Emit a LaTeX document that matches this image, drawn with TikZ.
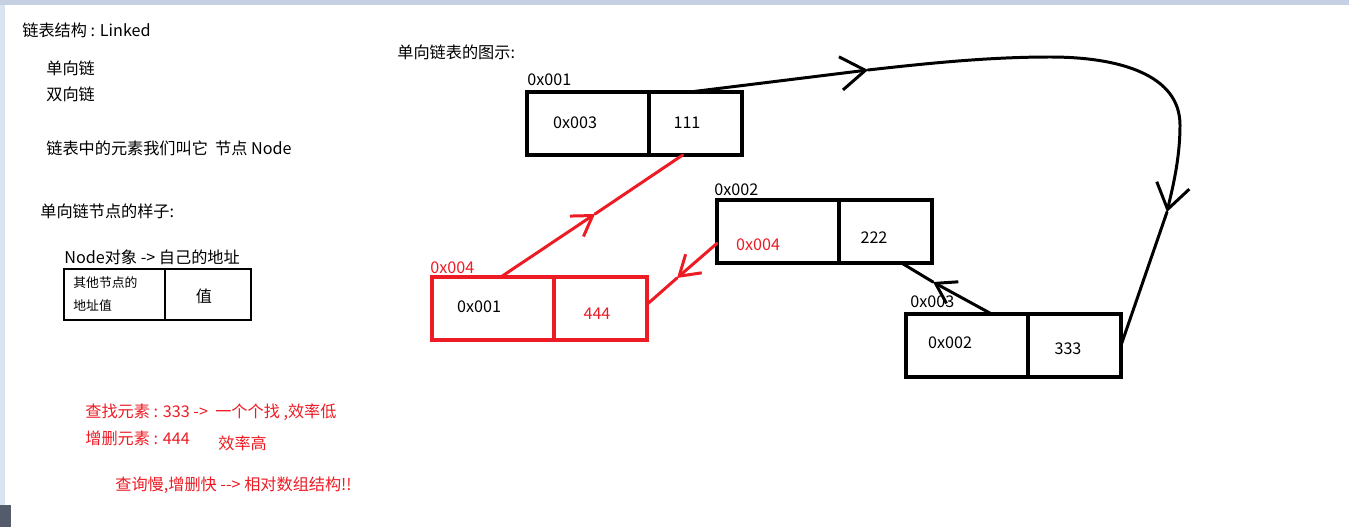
\documentclass[tikz,border=0pt]{standalone}
\usepackage{fontspec}
\newfontfamily\cjkfont{Noto Sans CJK SC}
\usepackage{tikz}
\usetikzlibrary{arrows.meta}
\definecolor{rot}{RGB}{237,28,36}
\definecolor{rahmen}{RGB}{197,208,226}
\definecolor{rand}{RGB}{217,227,241}
\definecolor{leiste}{RGB}{84,92,108}

\begin{document}
\begin{tikzpicture}[x=0.02cm,y=-0.02cm,
		font=\cjkfont\fontsize{9.2}{11}\selectfont,
		txt/.style={anchor=west,inner sep=0pt},
		klein/.style={txt,font=\cjkfont\fontsize{7.3}{9}\selectfont},
		feld/.style={draw,line width=1.8pt,outer sep=0pt,inner sep=0pt,minimum height=1.26cm},
		links/.style={feld,minimum width=2.44cm},
		rechts/.style={feld,minimum width=1.86cm},
		linie/.style={line width=1.7pt,line cap=round,line join=round},
		pfeil/.style={linie,-{Straight Barb[length=14pt,width=19pt]}},
		kpfeil/.style={linie,-{Straight Barb[length=11pt,width=14pt]}}]
		\useasboundingbox (0,0) rectangle (1349,527);
		\fill[white] (0,0) rectangle (1349,527);
		\fill[rahmen] (0,0) rectangle (1349,5);
		\fill[rand] (0,5) rectangle (5,505);
		\fill[leiste] (0,505) rectangle (11,527);
		
		% Texte links
		\node[txt] (titel) at (22,30) {链表结构 : Linked};
		\node[txt] (einfach) at (46,68) {单向链};
		\node[txt] (doppelt) at (46,94) {双向链};
		\node[txt] (element) at (46,148) {链表中的元素我们叫它\ \ 节点 Node};
		\node[txt] (muster) at (40,211) {单向链节点的样子:};
		\node[txt] (objekt) at (64,257) {Node对象 -> 自己的地址};
		
		% Musterknoten
		\node[feld,line width=1.5pt,minimum width=2.02cm,minimum height=1.02cm,anchor=north west] (ma) at (64,269) {};
		\node[feld,line width=1.5pt,minimum width=1.72cm,minimum height=1.02cm,anchor=west] (mb) at (ma.east) {};
		\node[klein] (mt1) at (73,283) {其他节点的};
		\node[klein] (mt2) at (73,306) {地址值};
		\node[inner sep=0pt] (mt3) at (204,296) {值};
		
		% Bemerkungen
		\node[txt,text=rot] (suche) at (85,412) {查找元素 : 333 ->\ \ 一个个找 ,效率低};
		\node[txt,text=rot] (aendern) at (85,438) {增删元素 : 444};
		\node[txt,text=rot] (hoch) at (218,443) {效率高};
		\node[txt,text=rot] (fazit) at (115,485) {查询慢,增删快 -{}-> 相对数组结构!!};
		
		% Knoten
		\node[txt] (bild) at (397,52) {单向链表的图示:};
		\node[links,anchor=north west] (n1a) at (527,92) {};
		\node[rechts,anchor=west] (n1b) at (n1a.east) {};
		\node[txt] (l1) at (527,80) {0x001};
		\node[inner sep=0pt] (t1a) at (575,123) {0x003};
		\node[inner sep=0pt] (t1b) at (687,123) {111};
		
		\node[links,anchor=north west] (n2a) at (717,200) {};
		\node[rechts,anchor=west] (n2b) at (n2a.east) {};
		\node[txt] (l2) at (714,190) {0x002};
		\node[inner sep=0pt,text=rot] (t2a) at (758,245) {0x004};
		\node[inner sep=0pt] (t2b) at (874,238) {222};
		
		\node[links,anchor=north west] (n3a) at (906,314) {};
		\node[rechts,anchor=west] (n3b) at (n3a.east) {};
		\node[txt] (l3) at (910,302) {0x003};
		\node[inner sep=0pt] (t3a) at (950,343) {0x002};
		\node[inner sep=0pt] (t3b) at (1068,349) {333};
		
		\node[links,draw=rot,anchor=north west] (n4a) at (432,277) {};
		\node[rechts,draw=rot,anchor=west] (n4b) at (n4a.east) {};
		\node[txt,text=rot] (l4) at (430,268) {0x004};
		\node[inner sep=0pt] (t4a) at (479,307) {0x001};
		\node[inner sep=0pt,text=rot] (t4b) at (597,314) {444};
		
		% Pfeile
		\coordinate (p1) at (868,70);
		\coordinate (p2) at (1167,212);
		\coordinate (p3) at (933,282);
		\coordinate (p4) at (595,214);
		\coordinate (p5) at (677,278);
		\draw[pfeil] (n1b.100) -- (p1);
		\draw[pfeil] (p1) .. controls (930,63) and (990,57) .. (1050,57)
			.. controls (1120,57) and (1180,75) .. (1180,125)
			.. controls (1180,160) and (1172,190) .. (p2);
		\draw[linie] (p2) -- (n3b.east);
		\draw[kpfeil] (n3a.52) -- (p3);
		\draw[linie] (p3) -- (n2b.-63);
		\draw[kpfeil,rot] (n4a.76) -- (p4);
		\draw[linie,rot] (p4) -- (n1b.-112);
		\draw[kpfeil,rot] (n2a.191) -- (p5);
		\draw[linie,rot] (p5) -- (n4b.5);
	\end{tikzpicture}
\end{document}
